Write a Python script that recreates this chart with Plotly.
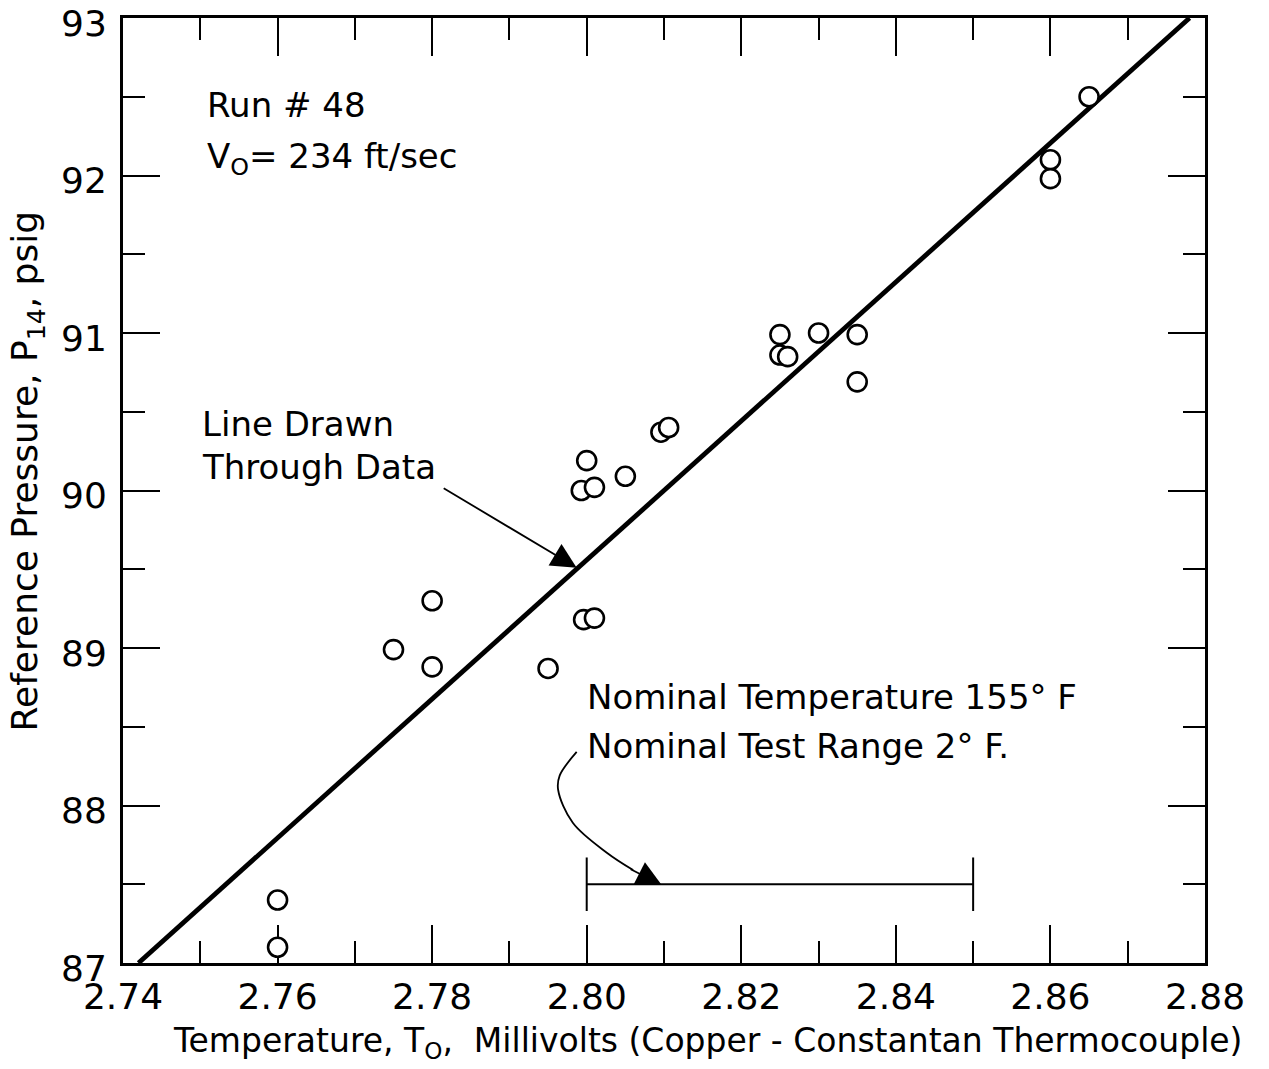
import plotly.graph_objects as go

# Measured points: thermocouple reading (mV) vs reference pressure (psig)
temp_mv = [2.760, 2.760, 2.775, 2.780, 2.780, 2.795, 2.7996, 2.801, 2.800, 2.7993,
           2.801, 2.805, 2.8096, 2.8106, 2.825, 2.825, 2.826, 2.830, 2.835, 2.835,
           2.860, 2.860, 2.865]
pressure_psig = [87.40, 87.10, 88.99, 89.30, 88.88, 88.87, 89.18, 89.19, 90.19, 90.00,
                 90.02, 90.09, 90.37, 90.40, 90.99, 90.86, 90.85, 91.00, 90.99, 90.69,
                 92.10, 91.98, 92.50]

# Axis ticks
x_ticks = [2.74, 2.76, 2.78, 2.80, 2.82, 2.84, 2.86, 2.88]
x_tick_text = ["2.74", "2.76", "2.78", "2.80", "2.82", "2.84", "2.86", "2.88"]
y_ticks = [87, 88, 89, 90, 91, 92, 93]
y_tick_text = ["87", "88", "89", "90", "91", "92", "93"]

# Line drawn through the data
fit_x = [2.742, 2.878]
fit_y = [87.0, 93.0]

# Nominal test range (2.80 – 2.85 mV), drawn at 87.5 psig
range_x = [2.80, 2.85]
range_y = 87.5
cap_half = 0.17

# Curved leader for the test-range note
leader_x = [2.7987, 2.7965, 2.7963, 2.7982, 2.8026, 2.8060]
leader_y = [88.34, 88.19, 88.10, 87.89, 87.70, 87.59]

FONT = "DejaVu Sans"
INK = "black"

fig = go.Figure()

fig.add_trace(go.Scatter(x=fit_x, y=fit_y, mode="lines",
                         line=dict(color=INK, width=4.8), hoverinfo="skip"))

fig.add_trace(go.Scatter(x=range_x, y=[range_y, range_y], mode="lines",
                         line=dict(color=INK, width=2), hoverinfo="skip"))
for xv in range_x:
    fig.add_trace(go.Scatter(x=[xv, xv], y=[range_y - cap_half, range_y + cap_half],
                             mode="lines", line=dict(color=INK, width=2), hoverinfo="skip"))

fig.add_trace(go.Scatter(x=leader_x, y=leader_y, mode="lines",
                         line=dict(color=INK, width=1.8, shape="spline"), hoverinfo="skip"))

fig.add_trace(go.Scatter(x=temp_mv, y=pressure_psig, mode="markers",
                         marker=dict(symbol="circle", size=19, color="white",
                                     line=dict(color=INK, width=2.6))))

txt = dict(family=FONT, size=34, color=INK)

fig.add_annotation(x=2.7506, y=92.45, text="Run # 48", showarrow=False,
                   xanchor="left", yanchor="middle", font=txt)
fig.add_annotation(x=2.7506, y=92.11, text="V<sub>O</sub>= 234 ft/sec", showarrow=False,
                   xanchor="left", yanchor="middle", font=txt)
fig.add_annotation(x=2.7500, y=90.42, text="Line Drawn", showarrow=False,
                   xanchor="left", yanchor="middle", font=txt)
fig.add_annotation(x=2.7500, y=90.15, text="Through Data", showarrow=False,
                   xanchor="left", yanchor="middle", font=txt)
fig.add_annotation(x=2.7998, y=88.69, text="Nominal Temperature 155° F", showarrow=False,
                   xanchor="left", yanchor="middle", font=txt)
fig.add_annotation(x=2.7998, y=88.38, text="Nominal Test Range 2° F.", showarrow=False,
                   xanchor="left", yanchor="middle", font=txt)

# Arrow pointing at the fitted line
fig.add_annotation(x=2.7987, y=89.51, ax=2.7813, ay=90.02, axref="x", ayref="y",
                   xref="x", yref="y", text="", showarrow=True,
                   arrowhead=2, arrowsize=2.8, arrowwidth=1.8, arrowcolor=INK)
# Arrowhead at the end of the curved leader
fig.add_annotation(x=2.8097, y=87.495, ax=2.8055, ay=87.60, axref="x", ayref="y",
                   xref="x", yref="y", text="", showarrow=True,
                   arrowhead=2, arrowsize=2.8, arrowwidth=1.8, arrowcolor=INK)

# Axis titles
fig.add_annotation(xref="paper", yref="paper", x=0.54, y=-0.0836,
                   text="Temperature, T<sub>O</sub>,  Millivolts (Copper - Constantan Thermocouple)",
                   showarrow=False, xanchor="center", yanchor="middle",
                   font=dict(family=FONT, size=33, color=INK))
fig.add_annotation(xref="paper", yref="paper", x=-0.088, y=0.52, textangle=-90,
                   text="Reference Pressure, P<sub>14</sub>, psig",
                   showarrow=False, xanchor="center", yanchor="middle",
                   font=dict(family=FONT, size=36, color=INK))

axis_common = dict(showline=True, linecolor=INK, linewidth=3, mirror="ticks",
                   ticks="inside", tickcolor=INK, tickwidth=2, showgrid=False,
                   zeroline=False, layer="below traces", tickmode="array",
                   ticklabeloverflow="allow", automargin=False,
                   tickfont=dict(family=FONT, size=36, color=INK))

fig.update_xaxes(range=[2.74, 2.88], tickvals=x_ticks, ticktext=x_tick_text,
                 ticklen=38,
                 minor=dict(dtick=0.01, tick0=2.74, ticklen=22, ticks="inside",
                            tickcolor=INK, tickwidth=2, showgrid=False),
                 **axis_common)
fig.update_yaxes(range=[87, 93], tickvals=y_ticks, ticktext=y_tick_text, ticklen=37,
                 ticklabelstandoff=6, ticklabelshift=5,
                 minor=dict(dtick=0.5, tick0=87, ticklen=22, ticks="inside",
                            tickcolor=INK, tickwidth=2, showgrid=False),
                 **axis_common)

fig.update_layout(width=1269, height=1069, showlegend=False,
                  paper_bgcolor="white", plot_bgcolor="white",
                  margin=dict(l=123, r=64, t=18, b=106, autoexpand=False),
                  font=dict(family=FONT, color=INK))

fig.write_html("out.html")
